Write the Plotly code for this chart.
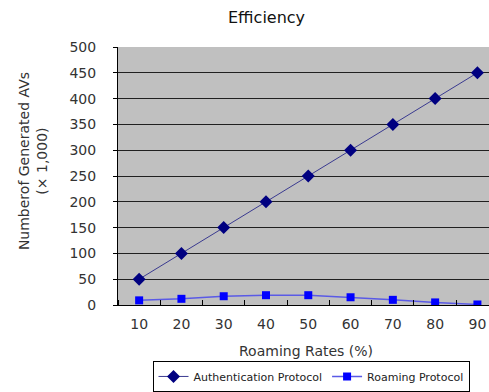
import plotly.graph_objects as go

roaming_rates = [10, 20, 30, 40, 50, 60, 70, 80, 90]
auth_protocol = [50, 100, 150, 200, 250, 300, 350, 400, 450]
roaming_protocol = [9, 12, 17, 19, 19, 15, 10, 5, 1]
y_ticks = [0, 50, 100, 150, 200, 250, 300, 350, 400, 450, 500]

W, H = 489, 392
L, R, T, B = 118, 0, 47, 85
font = "DejaVu Sans, sans-serif"

fig = go.Figure()
fig.add_trace(go.Scatter(
    x=roaming_rates, y=auth_protocol, name="Authentication Protocol",
    mode="lines+markers",
    line=dict(color="#3a3a90", width=1),
    marker=dict(symbol="diamond", size=10, color="#000080"),
))
fig.add_trace(go.Scatter(
    x=roaming_rates, y=roaming_protocol, name="Roaming Protocol",
    mode="lines+markers",
    line=dict(color="#5a5ae6", width=1.5),
    marker=dict(symbol="square", size=8, color="#0000ff"),
))

def px_x(p):
    return (p - L) / (W - L - R)

def px_y(p):
    return (H - B - p) / (H - T - B)

fig.update_layout(
    width=W, height=H,
    margin=dict(l=L, r=R, t=T, b=B),
    paper_bgcolor="white",
    plot_bgcolor="#c0c0c0",
    font=dict(family=font, size=14, color="#333333"),
    showlegend=True,
    legend=dict(
        orientation="h", x=px_x(311), y=px_y(379),
        xanchor="center", yanchor="middle",
        bordercolor="#000000", borderwidth=1, bgcolor="white",
        font=dict(size=11, color="#222222"),
        itemwidth=30, tracegroupgap=0,
    ),
    xaxis=dict(
        range=[5, 92.74],
        tickvals=roaming_rates, ticktext=[str(v) for v in roaming_rates],
        ticks="", showgrid=False, zeroline=False,
        showline=True, linecolor="#000000", linewidth=1,
        tickfont=dict(size=14), ticklabelstandoff=6,
        minor=dict(tick0=5, dtick=10, ticks="inside", ticklen=5,
                   tickcolor="#000000", tickwidth=1, showgrid=False),
    ),
    yaxis=dict(
        range=[0, 500], tickvals=y_ticks,
        ticks="outside", ticklen=4, tickcolor="#000000",
        showgrid=True, gridcolor="#202020", gridwidth=1,
        zeroline=False,
        showline=True, linecolor="#000000", linewidth=1,
        tickfont=dict(size=14), ticklabelstandoff=14,
    ),
    annotations=[
        dict(text="Efficiency", x=px_x(266), y=px_y(17), xref="paper", yref="paper",
             showarrow=False, font=dict(size=16, color="#111111"),
             xanchor="center", yanchor="middle"),
        dict(text="Roaming Rates (%)", x=px_x(306), y=px_y(353), xref="paper", yref="paper",
             showarrow=False, font=dict(size=14, color="#333333"),
             xanchor="center", yanchor="middle"),
        dict(text="Numberof Generated AVs<br>(\u00d7 1,000)", x=px_x(33), y=px_y(162),
             xref="paper", yref="paper", textangle=-90,
             showarrow=False, font=dict(size=14, color="#333333"),
             xanchor="center", yanchor="middle"),
    ],
)

fig.write_html("out.html")
